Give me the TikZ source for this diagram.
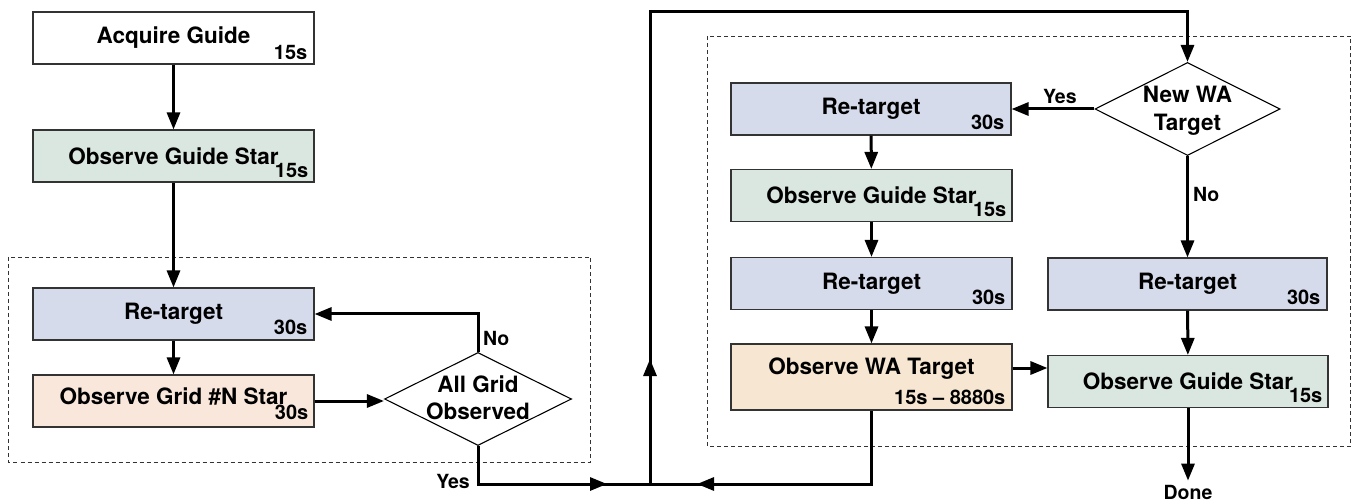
\documentclass[tikz,border=0pt]{standalone}
\usepackage{fontspec}
\setmainfont{TeX Gyre Heros}
\usetikzlibrary{shapes.geometric,arrows.meta}
\definecolor{cblue}{HTML}{D6DBEC}
\definecolor{cgreen}{HTML}{DAE6E0}
\definecolor{cpeach}{HTML}{FAE7DC}
\definecolor{ctan}{HTML}{F6E6D2}
\begin{document}
\begin{tikzpicture}[x=1pt,y=-1pt,
 box/.style={draw=black!80, line width=1.1pt, minimum width=281pt, minimum height=52pt, inner sep=0pt, font=\bfseries\fontsize{22.5}{26}\selectfont},
 tmst/.style={inner sep=0pt, font=\bfseries\fontsize{20}{22}\selectfont},
 lab/.style={inner sep=0pt, font=\bfseries\fontsize{19.5}{22}\selectfont},
 dec/.style={diamond, draw, line width=1.1pt, minimum width=187pt, minimum height=93pt, inner sep=0pt},
 dtext/.style={align=center, inner sep=0pt, font=\bfseries\fontsize{22.5}{27.5}\selectfont},
 conn/.style={line width=3pt},
 arr/.style={conn, -{Triangle[length=17pt,width=13pt]}},
 grp/.style={draw=black!80, line width=0.9pt, dash pattern=on 4pt off 3pt}]
\useasboundingbox (0,0) rectangle (1354,502);
% groups
\draw[grp] (8.5,257) rectangle (590.5,462);
\draw[grp] (707,36) rectangle (1350.5,446);
% left column
\node[box, fill=white] (acq) at (173.5,38) {Acquire Guide};
\node[box, fill=cgreen] (ogs1) at (173.5,156) {Observe Guide Star};
\node[box, fill=cblue] (rt1) at (173.5,314) {Re-target};
\node[box, fill=cpeach, text height=16pt, text depth=10pt] (ogn) at (173.5,401) {Observe Grid \#N Star};
\node[dec] (d1) at (478,399) {};
\node[dtext] (d1t) at (478,398) {All Grid\\Observed};
% middle column
\node[box, fill=cblue, minimum width=280pt] (rt2) at (871,109) {Re-target};
\node[box, fill=cgreen] (ogs2) at (871.5,195.5) {Observe Guide Star};
\node[box, fill=cblue] (rt3) at (871.5,283.5) {Re-target};
\node[box, fill=ctan, minimum height=66pt, text height=16pt, text depth=21pt] (owa) at (871.5,377) {Observe WA Target};
% right column
\node[dec, minimum width=185pt] (d2) at (1187.5,109) {};
\node[dtext] (d2t) at (1187.5,111) {New WA\\Target};
\node[box, fill=cblue, minimum width=279pt] (rt4) at (1187.5,284) {Re-target};
\node[box, fill=cgreen, minimum width=280pt] (ogs3) at (1188,381.5) {Observe Guide Star};
\node[lab, inner sep=4pt] (done) at (1188,492) {Done};
% times
\node[tmst, anchor=base east] (acqt) at ([xshift=-7pt,yshift=5.5pt]acq.south east) {15s};
\node[tmst, anchor=base east] (ogs1t) at ([xshift=-6pt,yshift=5.5pt]ogs1.south east) {15s};
\node[tmst, anchor=base east] (rt1t) at ([xshift=-7pt,yshift=6.5pt]rt1.south east) {30s};
\node[tmst, anchor=base east] (ognt) at ([xshift=-6pt,yshift=8pt]ogn.south east) {30s};
\node[tmst, anchor=base east] (rt2t) at ([xshift=-7pt,yshift=6pt]rt2.south east) {30s};
\node[tmst, anchor=base east] (ogs2t) at ([xshift=-6pt,yshift=5.5pt]ogs2.south east) {15s};
\node[tmst, anchor=base east] (rt3t) at ([xshift=-7pt,yshift=6pt]rt3.south east) {30s};
\node[tmst, anchor=base east] (owat) at ([xshift=-7pt,yshift=6.5pt]owa.south east) {15s -- 8880s};
\node[tmst, anchor=base east] (rt4t) at ([xshift=-7pt,yshift=6pt]rt4.south east) {30s};
\node[tmst, anchor=base east] (ogs3t) at ([xshift=-6pt,yshift=5.5pt]ogs3.south east) {15s};
% coordinates
\coordinate (j) at (650,484);
\coordinate (top1) at (650,12);
\coordinate (upa) at (650,359);
\coordinate (ya) at (607,484);
\coordinate (la) at (697,484);
% connectors left
\draw[arr] (acq) -- (ogs1);
\draw[arr] (ogs1) -- (rt1);
\draw[arr] (rt1) -- (ogn);
\draw[arr] (ogn.east) -- (ogn.east -| d1.west);
\draw[arr] (d1.north) |- (rt1.east);
\node[lab, anchor=base west] (no1) at (483,345) {No};
\draw[conn] (d1.south) |- (j);
\draw[arr] (d1.south |- j) -- (ya);
\node[lab, anchor=base east] (yes1) at (470,488) {Yes};
\draw[arr] (j) -- (top1) -| (d2.north);
\draw[arr] (j) -- (upa);
% connectors middle
\draw[arr] (d2.west) -- (rt2.east);
\node[lab, anchor=base west] (yes2) at (1043,104) {Yes};
\draw[arr] (rt2) -- (ogs2);
\draw[arr] (ogs2) -- (rt3);
\draw[arr] (rt3) -- (owa);
\draw[conn] (owa.south) |- (j);
\draw[arr] (owa.south |- j) -- (la);
\draw[arr] ([yshift=9pt]owa.east) -- ([yshift=9pt]owa.east -| ogs3.west);
% connectors right
\draw[arr] (d2.south) -- (rt4.north);
\node[lab, anchor=base west] (no2) at (1193,202) {No};
\draw[arr] (rt4) -- (ogs3);
\draw[arr] (ogs3) -- (done);
\end{tikzpicture}
\end{document}
